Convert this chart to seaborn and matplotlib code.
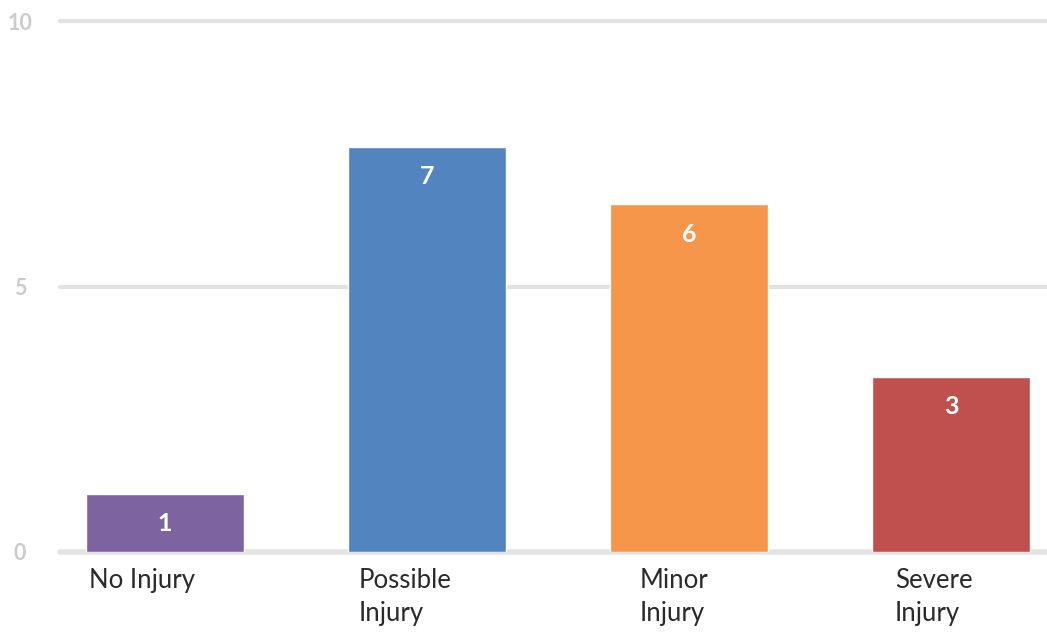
import matplotlib
matplotlib.use("Agg")
import matplotlib.pyplot as plt
import seaborn as sns
import pandas as pd

categories = ["No Injury", "Possible\nInjury", "Minor\nInjury", "Severe\nInjury"]
bar_heights = [1.1, 7.63, 6.55, 3.3]
value_labels = ["1", "7", "6", "3"]
colors = ["#7E63A1", "#5284BF", "#F5964B", "#C0504D"]
y_ticks = [0, 5, 10]

sns.set_theme(style="white")
plt.rcParams["font.family"] = ["Lato", "DejaVu Sans"]

df = pd.DataFrame({"category": categories, "value": bar_heights})

fig = plt.figure(figsize=(10.47, 6.32), dpi=100)
ax = fig.add_axes([60 / 1047, (632 - 552) / 632, (1047 - 60) / 1047, 531 / 632])

sns.barplot(data=df, x="category", y="value", hue="category", palette=colors,
            legend=False, width=0.603, saturation=1, ax=ax, zorder=3)

ax.set_xlim(-0.4008, 3.366)
ax.set_ylim(0, 10)
ax.set_yticks(y_ticks)
ax.set_yticklabels([str(t) for t in y_ticks])
for t in y_ticks:
    ax.axhline(t, color="#e3e3e3", lw=4 if t == 0 else 3, zorder=1, clip_on=False)

for s in ax.spines.values():
    s.set_visible(False)
ax.tick_params(axis="y", length=0, pad=28.8, labelsize=15.5, labelcolor="#cccccc")
for lab in ax.get_yticklabels():
    lab.set_fontweight("bold")
    lab.set_horizontalalignment("center")

ax.set_xticks([])
ax.set_xlabel("")
ax.set_ylabel("")

offsets = [-0.29, -0.26, -0.187, -0.214]
for i, cat in enumerate(categories):
    ax.text(i + offsets[i], -0.3, cat, ha="left", va="top", fontsize=18.5,
            fontweight="normal", color="#2a2a2a", linespacing=1.42, clip_on=False)

for i, (h, lab) in enumerate(zip(bar_heights, value_labels)):
    ax.annotate(lab, xy=(i, h), xytext=(0, -30), textcoords="offset pixels",
                ha="center", va="center", fontsize=18, fontweight="bold",
                color="white", zorder=5)

fig.savefig("out.png", dpi=100)
